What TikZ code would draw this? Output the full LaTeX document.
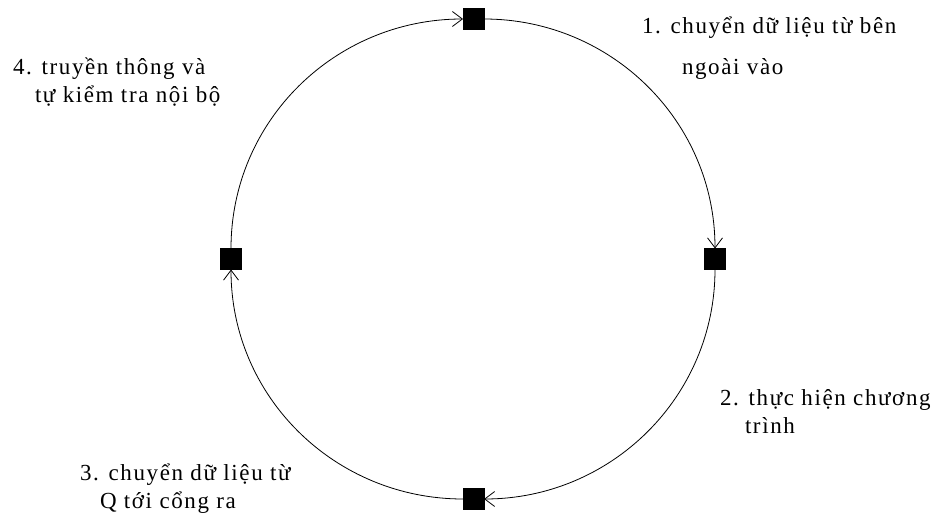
\documentclass[tikz,border=0pt]{standalone}
\usepackage{fontspec}
\setmainfont{Liberation Serif}[LetterSpace=7]
\usetikzlibrary{arrows.meta}
\tikzset{
  sq/.style={draw=black,fill=black,minimum size=21pt,inner sep=0pt,outer sep=0pt},
  lbl/.style={anchor=base west,align=left,inner sep=0pt,outer sep=0pt,font=\fontsize{23pt}{28pt}\selectfont},
  flow/.style={line width=0.8pt,-{Straight Barb[length=10pt,width=15pt,line width=0.8pt]}}
}
\begin{document}
\begin{tikzpicture}[x=1pt,y=1pt]
\useasboundingbox[fill=white] (0,0) rectangle (942,515);
\node[sq] (T) at (473.5,496) {};
\node[sq] (R) at (715,256) {};
\node[sq] (B) at (473.5,16) {};
\node[sq] (L) at (231,256) {};
\draw[flow] (L) to[out=90,in=180] (T);
\draw[flow] (T) to[out=0,in=90] (R);
\draw[flow] (R) to[out=-90,in=0] (B);
\draw[flow] (B) to[out=180,in=-90] (L);
\node[lbl] (l1) at (642,440) {1. chuyển dữ liệu từ bên\\[13pt]\hspace*{40pt}ngoài vào};
\node[lbl] (l4) at (13,412) {4. truyền thông và\\\hspace*{22pt}tự kiểm tra nội bộ};
\node[lbl] (l2) at (720,82) {2. thực hiện chương\\\hspace*{25pt}trình};
\node[lbl] (l3) at (80,7) {3. chuyển dữ liệu từ\\\hspace*{20pt}Q tới cổng ra};
\end{tikzpicture}
\end{document}
